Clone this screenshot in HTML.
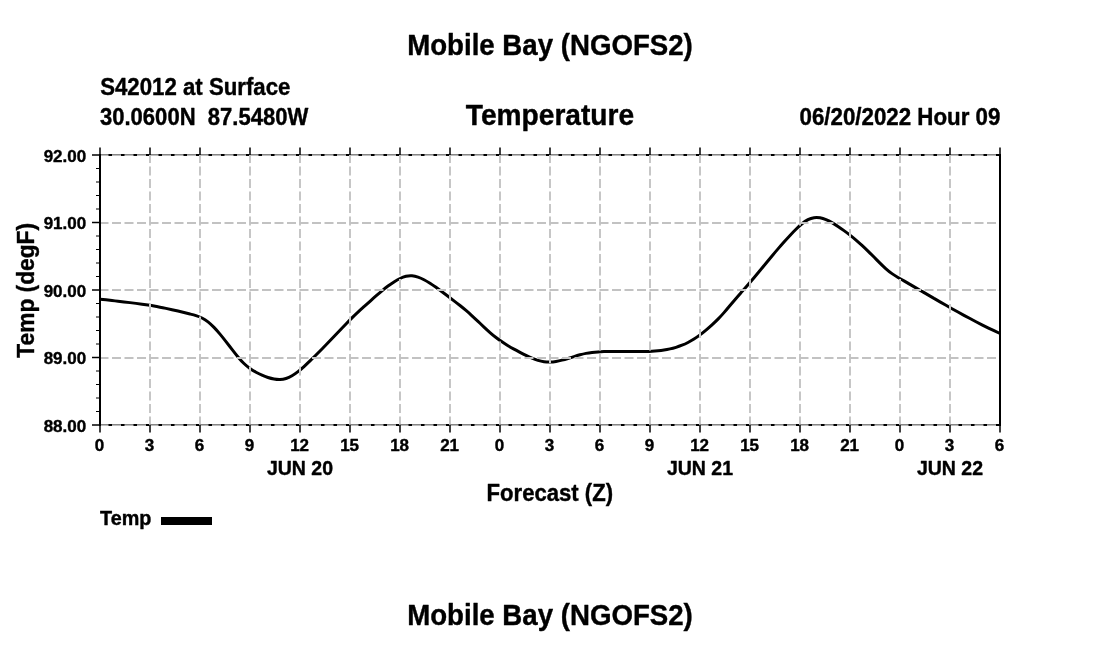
<!DOCTYPE html>
<html><head><meta charset="utf-8"><style>
html,body{margin:0;padding:0;background:#fff;width:1100px;height:650px;overflow:hidden}
svg{display:block;will-change:transform}
text{font-family:"Liberation Sans",Arial,Helvetica,sans-serif;font-weight:bold;fill:#000;stroke:#000;stroke-width:0.4px;stroke-linejoin:round}
</style></head><body>
<svg width="1100" height="650" viewBox="0 0 1100 650">
<rect width="1100" height="650" fill="#fff"/>
<text x="550" y="55" font-size="29" text-anchor="middle" textLength="285.6" lengthAdjust="spacingAndGlyphs">Mobile Bay (NGOFS2)</text>
<text x="100.2" y="95.4" font-size="23.5" textLength="190.2" lengthAdjust="spacingAndGlyphs">S42012 at Surface</text>
<text x="100" y="125.4" font-size="23.5" xml:space="preserve" style="white-space:pre" textLength="208.2" lengthAdjust="spacingAndGlyphs">30.0600N  87.5480W</text>
<text x="550" y="125" font-size="29" text-anchor="middle" textLength="168.3" lengthAdjust="spacingAndGlyphs">Temperature</text>
<text x="799.5" y="125.4" font-size="23.5" textLength="200.8" lengthAdjust="spacingAndGlyphs">06/20/2022 Hour 09</text>
<!-- axes base lines -->
<line x1="99" y1="155" x2="1000" y2="155" stroke="#000" stroke-width="2"/>
<line x1="99" y1="425" x2="1000" y2="425" stroke="#000" stroke-width="2"/>
<path d="M100.00,299.14 C102.00,299.38 104.00,299.62 106.00,299.85 C108.00,300.08 110.00,300.31 112.00,300.53 C114.00,300.76 116.00,300.98 118.00,301.21 C120.00,301.44 122.00,301.67 124.00,301.90 C126.00,302.14 128.00,302.38 130.00,302.62 C132.00,302.87 134.00,303.12 136.00,303.38 C138.00,303.64 140.00,303.92 142.00,304.20 C144.00,304.49 146.00,304.78 148.00,305.09 C150.00,305.41 152.00,305.73 154.00,306.08 C156.00,306.42 158.00,306.79 160.00,307.17 C162.00,307.55 164.00,307.96 166.00,308.38 C168.00,308.80 170.00,309.23 172.00,309.68 C174.00,310.13 176.00,310.60 178.00,311.07 C180.00,311.54 182.00,312.02 184.00,312.51 C186.00,313.00 188.00,313.49 190.00,313.99 C192.00,314.49 194.00,314.98 196.00,315.61 C198.00,316.24 200.00,316.99 202.00,317.99 C204.00,319.00 206.00,320.28 208.00,321.87 C210.00,323.45 212.00,325.32 214.00,327.38 C216.00,329.45 218.00,331.71 220.00,334.11 C222.00,336.50 224.00,339.02 226.00,341.59 C228.00,344.16 230.00,346.79 232.00,349.38 C234.00,351.97 236.00,354.53 238.00,356.92 C240.00,359.31 242.00,361.54 244.00,363.49 C246.00,365.43 248.00,367.07 250.00,368.49 C252.00,369.91 254.00,371.13 256.00,372.24 C258.00,373.35 260.00,374.35 262.00,375.23 C264.00,376.11 266.00,376.87 268.00,377.52 C270.00,378.16 272.00,378.69 274.00,379.05 C276.00,379.41 278.00,379.60 280.00,379.54 C282.00,379.48 284.00,379.17 286.00,378.54 C288.00,377.90 290.00,376.97 292.00,375.80 C294.00,374.63 296.00,373.23 298.00,371.67 C300.00,370.10 302.00,368.38 304.00,366.55 C306.00,364.73 308.00,362.81 310.00,360.87 C312.00,358.93 314.00,356.96 316.00,354.97 C318.00,352.98 320.00,350.97 322.00,348.94 C324.00,346.90 326.00,344.85 328.00,342.78 C330.00,340.72 332.00,338.63 334.00,336.53 C336.00,334.43 338.00,332.32 340.00,330.21 C342.00,328.10 344.00,326.00 346.00,323.94 C348.00,321.87 350.00,319.84 352.00,317.87 C354.00,315.90 356.00,314.00 358.00,312.16 C360.00,310.31 362.00,308.52 364.00,306.72 C366.00,304.92 368.00,303.10 370.00,301.29 C372.00,299.49 374.00,297.69 376.00,295.93 C378.00,294.18 380.00,292.46 382.00,290.80 C384.00,289.15 386.00,287.57 388.00,286.07 C390.00,284.58 392.00,283.19 394.00,281.91 C396.00,280.64 398.00,279.48 400.00,278.52 C402.00,277.56 404.00,276.80 406.00,276.33 C408.00,275.85 410.00,275.68 412.00,275.84 C414.00,276.00 416.00,276.47 418.00,277.16 C420.00,277.84 422.00,278.72 424.00,279.74 C426.00,280.77 428.00,281.94 430.00,283.21 C432.00,284.48 434.00,285.86 436.00,287.29 C438.00,288.73 440.00,290.23 442.00,291.74 C444.00,293.25 446.00,294.77 448.00,296.28 C450.00,297.79 452.00,299.31 454.00,300.84 C456.00,302.38 458.00,303.94 460.00,305.54 C462.00,307.14 464.00,308.78 466.00,310.48 C468.00,312.18 470.00,313.94 472.00,315.77 C474.00,317.60 476.00,319.48 478.00,321.38 C480.00,323.27 482.00,325.18 484.00,327.05 C486.00,328.93 488.00,330.76 490.00,332.52 C492.00,334.28 494.00,335.95 496.00,337.51 C498.00,339.06 500.00,340.50 502.00,341.85 C504.00,343.20 506.00,344.47 508.00,345.67 C510.00,346.87 512.00,348.01 514.00,349.11 C516.00,350.21 518.00,351.27 520.00,352.33 C522.00,353.38 524.00,354.42 526.00,355.41 C528.00,356.40 530.00,357.33 532.00,358.17 C534.00,359.01 536.00,359.76 538.00,360.36 C540.00,360.97 542.00,361.43 544.00,361.72 C546.00,362.00 548.00,362.10 550.00,362.04 C552.00,361.98 554.00,361.77 556.00,361.44 C558.00,361.12 560.00,360.68 562.00,360.17 C564.00,359.67 566.00,359.09 568.00,358.48 C570.00,357.87 572.00,357.23 574.00,356.61 C576.00,355.98 578.00,355.37 580.00,354.82 C582.00,354.27 584.00,353.77 586.00,353.38 C588.00,352.98 590.00,352.68 592.00,352.44 C594.00,352.20 596.00,352.02 598.00,351.89 C600.00,351.75 602.00,351.65 604.00,351.58 C606.00,351.50 608.00,351.45 610.00,351.42 C612.00,351.40 614.00,351.39 616.00,351.39 C618.00,351.39 620.00,351.41 622.00,351.43 C624.00,351.45 626.00,351.48 628.00,351.50 C630.00,351.53 632.00,351.55 634.00,351.56 C636.00,351.58 638.00,351.58 640.00,351.57 C642.00,351.56 644.00,351.53 646.00,351.48 C648.00,351.43 650.00,351.36 652.00,351.25 C654.00,351.14 656.00,350.99 658.00,350.80 C660.00,350.60 662.00,350.35 664.00,350.04 C666.00,349.74 668.00,349.36 670.00,348.91 C672.00,348.47 674.00,347.94 676.00,347.33 C678.00,346.72 680.00,346.01 682.00,345.21 C684.00,344.40 686.00,343.50 688.00,342.48 C690.00,341.46 692.00,340.32 694.00,339.06 C696.00,337.79 698.00,336.39 700.00,334.89 C702.00,333.39 704.00,331.78 706.00,330.10 C708.00,328.42 710.00,326.68 712.00,324.87 C714.00,323.07 716.00,321.19 718.00,319.16 C720.00,317.14 722.00,314.95 724.00,312.64 C726.00,310.34 728.00,307.94 730.00,305.53 C732.00,303.12 734.00,300.71 736.00,298.40 C738.00,296.08 740.00,293.84 742.00,291.58 C744.00,289.33 746.00,287.06 748.00,284.74 C750.00,282.41 752.00,280.05 754.00,277.67 C756.00,275.28 758.00,272.87 760.00,270.45 C762.00,268.03 764.00,265.61 766.00,263.18 C768.00,260.76 770.00,258.35 772.00,255.96 C774.00,253.56 776.00,251.19 778.00,248.86 C780.00,246.52 782.00,244.22 784.00,241.98 C786.00,239.73 788.00,237.54 790.00,235.41 C792.00,233.28 794.00,231.22 796.00,229.25 C798.00,227.27 800.00,225.40 802.00,223.76 C804.00,222.11 806.00,220.71 808.00,219.66 C810.00,218.61 812.00,217.96 814.00,217.68 C816.00,217.39 818.00,217.46 820.00,217.81 C822.00,218.16 824.00,218.79 826.00,219.62 C828.00,220.45 830.00,221.48 832.00,222.64 C834.00,223.80 836.00,225.09 838.00,226.44 C840.00,227.79 842.00,229.18 844.00,230.61 C846.00,232.05 848.00,233.54 850.00,235.11 C852.00,236.68 854.00,238.33 856.00,240.06 C858.00,241.78 860.00,243.57 862.00,245.41 C864.00,247.26 866.00,249.16 868.00,251.10 C870.00,253.05 872.00,255.03 874.00,257.05 C876.00,259.07 878.00,261.12 880.00,263.12 C882.00,265.12 884.00,267.07 886.00,268.85 C888.00,270.64 890.00,272.25 892.00,273.64 C894.00,275.04 896.00,276.25 898.00,277.42 C900.00,278.60 902.00,279.75 904.00,280.91 C906.00,282.07 908.00,283.24 910.00,284.41 C912.00,285.57 914.00,286.74 916.00,287.91 C918.00,289.08 920.00,290.25 922.00,291.42 C924.00,292.59 926.00,293.75 928.00,294.92 C930.00,296.08 932.00,297.24 934.00,298.40 C936.00,299.56 938.00,300.71 940.00,301.86 C942.00,303.01 944.00,304.16 946.00,305.29 C948.00,306.43 950.00,307.56 952.00,308.69 C954.00,309.81 956.00,310.92 958.00,312.03 C960.00,313.14 962.00,314.24 964.00,315.32 C966.00,316.41 968.00,317.49 970.00,318.55 C972.00,319.62 974.00,320.67 976.00,321.72 C978.00,322.76 980.00,323.79 982.00,324.80 C984.00,325.81 986.00,326.81 988.00,327.80 C990.00,328.78 992.00,329.75 994.00,330.70 C996.00,331.65 998.00,332.59 1000.00,333.51" fill="none" stroke="#000" stroke-width="3" stroke-linejoin="round" stroke-linecap="butt"/>
<g stroke="#c2c2c2" stroke-width="2" stroke-dasharray="9 3.5" fill="none">
<line x1="150.0" y1="425.5" x2="150.0" y2="155" stroke="#c6c6c6"/>
<line x1="200.0" y1="425.5" x2="200.0" y2="155" stroke="#c6c6c6"/>
<line x1="250.0" y1="425.5" x2="250.0" y2="155" stroke="#c6c6c6"/>
<line x1="300.0" y1="425.5" x2="300.0" y2="155" stroke="#c6c6c6"/>
<line x1="350.0" y1="425.5" x2="350.0" y2="155" stroke="#c6c6c6"/>
<line x1="400.0" y1="425.5" x2="400.0" y2="155" stroke="#c6c6c6"/>
<line x1="450.0" y1="425.5" x2="450.0" y2="155" stroke="#c6c6c6"/>
<line x1="500.0" y1="425.5" x2="500.0" y2="155" stroke="#c6c6c6"/>
<line x1="550.0" y1="425.5" x2="550.0" y2="155" stroke="#c6c6c6"/>
<line x1="600.0" y1="425.5" x2="600.0" y2="155" stroke="#c6c6c6"/>
<line x1="650.0" y1="425.5" x2="650.0" y2="155" stroke="#c6c6c6"/>
<line x1="700.0" y1="425.5" x2="700.0" y2="155" stroke="#c6c6c6"/>
<line x1="750.0" y1="425.5" x2="750.0" y2="155" stroke="#c6c6c6"/>
<line x1="800.0" y1="425.5" x2="800.0" y2="155" stroke="#c6c6c6"/>
<line x1="850.0" y1="425.5" x2="850.0" y2="155" stroke="#c6c6c6"/>
<line x1="900.0" y1="425.5" x2="900.0" y2="155" stroke="#c6c6c6"/>
<line x1="950.0" y1="425.5" x2="950.0" y2="155" stroke="#c6c6c6"/>
<line x1="99.5" y1="223.00" x2="1000" y2="223.00" />
<line x1="99.5" y1="290.00" x2="1000" y2="290.00" />
<line x1="99.5" y1="358.00" x2="1000" y2="358.00" />
</g>
<g stroke-dasharray="9 3.5" fill="none">
<line x1="99.5" y1="154.5" x2="1000" y2="154.5" stroke-width="1" stroke="#858585"/>
<line x1="99.5" y1="155.5" x2="1000" y2="155.5" stroke-width="1" stroke="#bcbcbc"/>
<line x1="99.5" y1="424.5" x2="1000" y2="424.5" stroke-width="1" stroke="#858585"/>
<line x1="99.5" y1="425.5" x2="1000" y2="425.5" stroke-width="1" stroke="#bcbcbc"/>
</g>
<line x1="100" y1="154" x2="100" y2="426" stroke="#000" stroke-width="2"/>
<line x1="1000" y1="154" x2="1000" y2="426" stroke="#000" stroke-width="2"/>
<g stroke="#000" stroke-width="1.5">
<line x1="100" y1="425" x2="100" y2="432.5" />
<line x1="100" y1="155" x2="100" y2="147.5" />
<line x1="150" y1="425" x2="150" y2="432.5" />
<line x1="150" y1="155" x2="150" y2="147.5" />
<line x1="200" y1="425" x2="200" y2="432.5" />
<line x1="200" y1="155" x2="200" y2="147.5" />
<line x1="250" y1="425" x2="250" y2="432.5" />
<line x1="250" y1="155" x2="250" y2="147.5" />
<line x1="300" y1="425" x2="300" y2="432.5" />
<line x1="300" y1="155" x2="300" y2="147.5" />
<line x1="350" y1="425" x2="350" y2="432.5" />
<line x1="350" y1="155" x2="350" y2="147.5" />
<line x1="400" y1="425" x2="400" y2="432.5" />
<line x1="400" y1="155" x2="400" y2="147.5" />
<line x1="450" y1="425" x2="450" y2="432.5" />
<line x1="450" y1="155" x2="450" y2="147.5" />
<line x1="500" y1="425" x2="500" y2="432.5" />
<line x1="500" y1="155" x2="500" y2="147.5" />
<line x1="550" y1="425" x2="550" y2="432.5" />
<line x1="550" y1="155" x2="550" y2="147.5" />
<line x1="600" y1="425" x2="600" y2="432.5" />
<line x1="600" y1="155" x2="600" y2="147.5" />
<line x1="650" y1="425" x2="650" y2="432.5" />
<line x1="650" y1="155" x2="650" y2="147.5" />
<line x1="700" y1="425" x2="700" y2="432.5" />
<line x1="700" y1="155" x2="700" y2="147.5" />
<line x1="750" y1="425" x2="750" y2="432.5" />
<line x1="750" y1="155" x2="750" y2="147.5" />
<line x1="800" y1="425" x2="800" y2="432.5" />
<line x1="800" y1="155" x2="800" y2="147.5" />
<line x1="850" y1="425" x2="850" y2="432.5" />
<line x1="850" y1="155" x2="850" y2="147.5" />
<line x1="900" y1="425" x2="900" y2="432.5" />
<line x1="900" y1="155" x2="900" y2="147.5" />
<line x1="950" y1="425" x2="950" y2="432.5" />
<line x1="950" y1="155" x2="950" y2="147.5" />
<line x1="1000" y1="425" x2="1000" y2="432.5" />
<line x1="1000" y1="155" x2="1000" y2="147.5" />
</g>
<g stroke="#000" stroke-width="1">
<line x1="92" y1="155.00" x2="100" y2="155.00" stroke-width="1.5"/>
<line x1="92" y1="222.50" x2="100" y2="222.50" stroke-width="1.5"/>
<line x1="92" y1="290.00" x2="100" y2="290.00" stroke-width="1.5"/>
<line x1="92" y1="357.50" x2="100" y2="357.50" stroke-width="1.5"/>
<line x1="92" y1="425.00" x2="100" y2="425.00" stroke-width="1.5"/>
<line x1="96" y1="168.50" x2="100" y2="168.50" />
<line x1="96" y1="182.00" x2="100" y2="182.00" />
<line x1="96" y1="195.50" x2="100" y2="195.50" />
<line x1="96" y1="209.00" x2="100" y2="209.00" />
<line x1="96" y1="236.00" x2="100" y2="236.00" />
<line x1="96" y1="249.50" x2="100" y2="249.50" />
<line x1="96" y1="263.00" x2="100" y2="263.00" />
<line x1="96" y1="276.50" x2="100" y2="276.50" />
<line x1="96" y1="303.50" x2="100" y2="303.50" />
<line x1="96" y1="317.00" x2="100" y2="317.00" />
<line x1="96" y1="330.50" x2="100" y2="330.50" />
<line x1="96" y1="344.00" x2="100" y2="344.00" />
<line x1="96" y1="371.00" x2="100" y2="371.00" />
<line x1="96" y1="384.50" x2="100" y2="384.50" />
<line x1="96" y1="398.00" x2="100" y2="398.00" />
<line x1="96" y1="411.50" x2="100" y2="411.50" />
</g>
<g font-size="17" text-anchor="middle">
<text x="99.6" y="450.5">0</text>
<text x="149.6" y="450.5">3</text>
<text x="199.6" y="450.5">6</text>
<text x="249.6" y="450.5">9</text>
<text x="299.6" y="450.5">12</text>
<text x="349.6" y="450.5">15</text>
<text x="399.6" y="450.5">18</text>
<text x="449.6" y="450.5">21</text>
<text x="499.6" y="450.5">0</text>
<text x="549.6" y="450.5">3</text>
<text x="599.6" y="450.5">6</text>
<text x="649.6" y="450.5">9</text>
<text x="699.6" y="450.5">12</text>
<text x="749.6" y="450.5">15</text>
<text x="799.6" y="450.5">18</text>
<text x="849.6" y="450.5">21</text>
<text x="899.6" y="450.5">0</text>
<text x="949.6" y="450.5">3</text>
<text x="999.6" y="450.5">6</text>
</g>
<g font-size="17" text-anchor="end">
<text x="86.2" y="161.50">92.00</text>
<text x="86.2" y="229.00">91.00</text>
<text x="86.2" y="296.50">90.00</text>
<text x="86.2" y="364.00">89.00</text>
<text x="86.2" y="431.50">88.00</text>
</g>
<g font-size="19.5" text-anchor="middle">
<text x="300" y="474.6">JUN 20</text>
<text x="700" y="474.6">JUN 21</text>
<text x="950" y="474.6">JUN 22</text>
</g>
<text x="549.8" y="501.1" font-size="23.3" text-anchor="middle" textLength="126.4" lengthAdjust="spacingAndGlyphs">Forecast (Z)</text>
<text transform="translate(34,290.3) rotate(-90)" font-size="23.2" text-anchor="middle" textLength="134.8" lengthAdjust="spacingAndGlyphs">Temp (degF)</text>
<text x="100.1" y="524.5" font-size="19.8">Temp</text>
<rect x="161" y="517" width="51" height="8" fill="#000"/>
<text x="550" y="625" font-size="29" text-anchor="middle" textLength="285.6" lengthAdjust="spacingAndGlyphs">Mobile Bay (NGOFS2)</text>
</svg>
</body></html>
